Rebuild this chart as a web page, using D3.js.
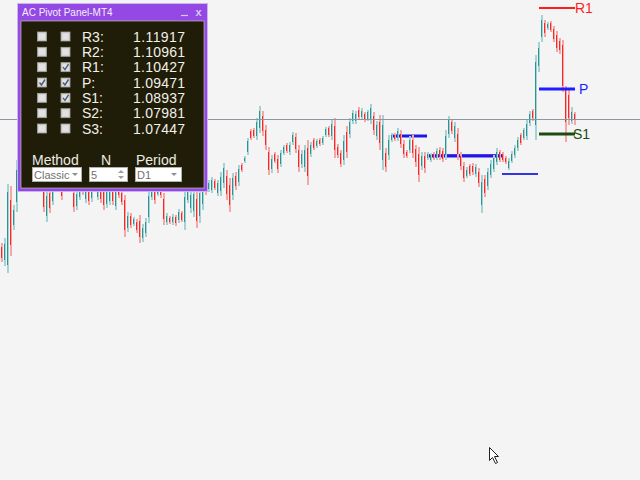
<!DOCTYPE html>
<html><head><meta charset="utf-8">
<script src="https://cdn.jsdelivr.net/npm/d3@7"></script>
<style>html,body{margin:0;padding:0;background:#f4f4f4;overflow:hidden}</style>
</head><body><svg id="c" width="640" height="480"></svg>
<script>
// ---- data ----
const opens = [
1.07605,1.07452,1.07393,1.08160,1.07865,1.08136,1.08420,1.08526,1.08349,1.08490,
1.08443,1.08325,1.08408,1.08384,1.08278,1.07971,1.08243,1.08148,1.08313,1.08408,
1.08325,1.08302,1.08384,1.08349,1.08243,1.08089,1.08195,1.08337,1.08172,1.08278,
1.08184,1.08349,1.08195,1.08290,1.08254,1.08113,1.08148,1.08278,1.08089,1.08302,
1.08243,1.08160,1.07830,1.07971,1.07877,1.07900,1.07912,1.07712,1.07771,1.07959,
1.08195,1.08278,1.08231,1.08302,1.08172,1.07900,1.07948,1.07900,1.07959,1.07924,
1.08007,1.07900,1.08160,1.08066,1.08030,1.08172,1.07971,1.08113,1.08384,1.08290,
1.08278,1.08384,1.08243,1.08266,1.08361,1.08443,1.08337,1.08219,1.08443,1.08372,
1.08573,1.08620,1.08726,1.08974,1.08986,1.08915,1.09010,1.09151,1.08986,1.08726,
1.08526,1.08703,1.08644,1.08585,1.08715,1.08809,1.08726,1.08844,1.08903,1.08750,
1.08585,1.08549,1.08774,1.08703,1.08868,1.08797,1.08868,1.08833,1.08927,1.09010,
1.08915,1.09033,1.08785,1.08715,1.08632,1.08962,1.08939,1.09092,1.09092,1.09222,
1.09139,1.09175,1.09116,1.09104,1.09151,1.08915,1.09080,1.08632,1.08715,1.08691,
1.08868,1.08927,1.08892,1.08939,1.08821,1.08726,1.08750,1.08868,1.08762,1.08703,
1.08561,1.08679,1.08656,1.08632,1.08703,1.08656,1.08750,1.08738,1.08691,1.08939,
1.09080,1.08892,1.08939,1.08679,1.08561,1.08443,1.08561,1.08561,1.08467,1.08490,
1.08101,1.08408,1.08325,1.08455,1.08526,1.08608,1.08726,1.08703,1.08656,1.08538,
1.08620,1.08691,1.08774,1.08927,1.08892,1.08915,1.09069,1.09210,1.09045,1.09741,
1.10083,1.10249,1.10190,1.10249,1.10178,1.10107,1.10036,1.09989,1.09458,1.09399,
1.09092,1.09175];
const highs = [
1.07653,1.07712,1.08349,1.08325,1.08101,1.08632,1.08750,1.08573,1.08514,1.08538,
1.08490,1.08455,1.08443,1.08420,1.08337,1.08278,1.08302,1.08372,1.08420,1.08443,
1.08372,1.08396,1.08420,1.08372,1.08302,1.08278,1.08337,1.08372,1.08361,1.08325,
1.08349,1.08372,1.08361,1.08337,1.08302,1.08302,1.08337,1.08325,1.08302,1.08337,
1.08278,1.08219,1.08018,1.08007,1.07959,1.07936,1.07983,1.07877,1.07948,1.08278,
1.08337,1.08325,1.08349,1.08337,1.08243,1.08007,1.07971,1.07995,1.07983,1.08054,
1.08030,1.08278,1.08302,1.08278,1.08302,1.08254,1.08325,1.08396,1.08420,1.08396,
1.08431,1.08408,1.08396,1.08490,1.08597,1.08514,1.08420,1.08479,1.08490,1.08573,
1.08597,1.08679,1.08892,1.08998,1.09010,1.09128,1.09269,1.09210,1.09045,1.08785,
1.08691,1.08726,1.08691,1.08750,1.08809,1.08833,1.08844,1.08962,1.08951,1.08809,
1.08750,1.08809,1.08868,1.08844,1.08892,1.08880,1.08892,1.08915,1.09021,1.09033,
1.09104,1.09128,1.08821,1.08750,1.08927,1.09033,1.09128,1.09222,1.09210,1.09257,
1.09246,1.09198,1.09222,1.09293,1.09198,1.09092,1.09163,1.09163,1.08774,1.08927,
1.08951,1.08951,1.09010,1.08986,1.08868,1.08750,1.08915,1.08927,1.08809,1.08785,
1.08726,1.08726,1.08726,1.08715,1.08726,1.08774,1.08785,1.08774,1.08986,1.09151,
1.09116,1.09080,1.09010,1.08726,1.08608,1.08549,1.08585,1.08597,1.08585,1.08538,
1.08455,1.08455,1.08538,1.08632,1.08691,1.08774,1.08750,1.08726,1.08679,1.08656,
1.08738,1.08809,1.08903,1.08951,1.09010,1.09104,1.09210,1.09234,1.09871,1.10024,
1.10343,1.10284,1.10260,1.10272,1.10213,1.10154,1.10072,1.10048,1.09505,1.09482,
1.09257,1.09198];
const lows = [
1.07428,1.07381,1.07299,1.07499,1.07806,1.08018,1.08337,1.08337,1.08302,1.08325,
1.08278,1.08290,1.08278,1.08266,1.08018,1.07900,1.08007,1.08101,1.08278,1.08290,
1.08160,1.08266,1.08278,1.08254,1.08018,1.08042,1.08160,1.08219,1.08125,1.08101,
1.08136,1.08254,1.08160,1.08125,1.08042,1.08066,1.08101,1.08101,1.08042,1.08184,
1.08101,1.07723,1.07782,1.07830,1.07853,1.07771,1.07653,1.07664,1.07723,1.07889,
1.08160,1.08113,1.08207,1.08184,1.07865,1.07865,1.07877,1.07865,1.07853,1.07889,
1.07900,1.07806,1.08125,1.08007,1.07959,1.07830,1.07889,1.08042,1.08219,1.08254,
1.08243,1.08278,1.08207,1.08207,1.08302,1.08160,1.08018,1.08160,1.08278,1.08325,
1.08490,1.08597,1.08691,1.08868,1.08892,1.08868,1.08951,1.08915,1.08750,1.08455,
1.08479,1.08597,1.08479,1.08549,1.08691,1.08715,1.08691,1.08809,1.08715,1.08490,
1.08538,1.08490,1.08337,1.08667,1.08750,1.08774,1.08797,1.08809,1.08903,1.08903,
1.08868,1.08656,1.08656,1.08549,1.08573,1.08656,1.08892,1.09057,1.09057,1.09104,
1.09104,1.09080,1.09092,1.09057,1.08927,1.08868,1.08750,1.08514,1.08490,1.08632,
1.08844,1.08856,1.08856,1.08774,1.08656,1.08656,1.08715,1.08656,1.08549,1.08372,
1.08514,1.08479,1.08632,1.08608,1.08632,1.08632,1.08632,1.08608,1.08632,1.08892,
1.08939,1.08844,1.08632,1.08514,1.08372,1.08420,1.08443,1.08455,1.08431,1.08313,
1.08007,1.08195,1.08278,1.08420,1.08490,1.08573,1.08608,1.08608,1.08585,1.08514,
1.08597,1.08656,1.08738,1.08809,1.08868,1.08868,1.09033,1.09092,1.08868,1.09670,
1.10024,1.10083,1.10166,1.10142,1.10024,1.09906,1.09883,1.09434,1.08844,1.09045,
1.09057,1.09045];
const closes = [
1.07476,1.07641,1.08254,1.07629,1.08042,1.08514,1.08667,1.08384,1.08467,1.08372,
1.08325,1.08420,1.08313,1.08302,1.08077,1.08207,1.08066,1.08325,1.08384,1.08325,
1.08207,1.08361,1.08313,1.08278,1.08077,1.08231,1.08302,1.08254,1.08313,1.08148,
1.08302,1.08278,1.08325,1.08172,1.08101,1.08254,1.08290,1.08148,1.08254,1.08219,
1.08136,1.07806,1.07971,1.07865,1.07936,1.07806,1.07723,1.07830,1.07900,1.08207,
1.08302,1.08160,1.08313,1.08219,1.07936,1.07971,1.07900,1.07959,1.07889,1.08018,
1.07924,1.08195,1.08266,1.08219,1.08231,1.07912,1.08243,1.08325,1.08254,1.08361,
1.08396,1.08302,1.08361,1.08431,1.08538,1.08231,1.08101,1.08420,1.08325,1.08526,
1.08514,1.08656,1.08856,1.08892,1.08915,1.09080,1.09210,1.08974,1.08809,1.08514,
1.08644,1.08620,1.08526,1.08715,1.08785,1.08738,1.08809,1.08927,1.08762,1.08549,
1.08703,1.08750,1.08443,1.08809,1.08774,1.08856,1.08821,1.08892,1.08998,1.08927,
1.09057,1.08750,1.08691,1.08585,1.08856,1.08726,1.09080,1.09187,1.09175,1.09139,
1.09210,1.09104,1.09198,1.09246,1.08986,1.09045,1.08833,1.09045,1.08549,1.08868,
1.08927,1.08880,1.08974,1.08821,1.08703,1.08679,1.08868,1.08715,1.08608,1.08455,
1.08679,1.08538,1.08703,1.08691,1.08656,1.08738,1.08667,1.08644,1.08915,1.09104,
1.08974,1.09033,1.08703,1.08561,1.08420,1.08514,1.08467,1.08490,1.08549,1.08361,
1.08372,1.08243,1.08490,1.08585,1.08656,1.08726,1.08632,1.08632,1.08608,1.08620,
1.08703,1.08774,1.08868,1.08833,1.08986,1.09057,1.09175,1.09128,1.09788,1.09954,
1.10284,1.10131,1.10237,1.10166,1.10060,1.09954,1.09930,1.09505,1.09080,1.09128,
1.09198,1.09116];

const pivotNames  = ["R3","R2","R1","P","S1","S2","S3"];
const pivotValues = [1.11917,1.10961,1.10427,1.09471,1.08937,1.07981,1.07447];
const checkCol1   = [false,false,false,true,false,false,false];
const checkCol2   = [false,false,true,true,true,false,false];
const chartPivots = ["R1","P","S1"];
const pastPivotValues = [1.08915,1.08679,1.08467];
const pastPivotStart  = [130,142,167];
const pastPivotEnd    = [142,167,179];
const dayStartIndex = 180;
const bidPrice = 1.09110;
const priceTop = 1.10520, priceBottom = 1.04856;
const methodValue = "Classic", nValue = "5", periodValue = "D1";

// ---- scales ----
const svg = d3.select("#c");
const W = 640, H = 480;
const x = d3.scaleLinear().domain([0, closes.length - 1]).range([1, 574]);
const y = d3.scaleLinear().domain([priceBottom, priceTop]).range([H, 0]);

svg.append("rect").attr("width", W).attr("height", H).attr("fill", "#f4f4f4");

// past pivot lines
const past = svg.append("g");
pastPivotValues.forEach((v, k) => {
  const yy = Math.round(y(v));
  if (k === 1) {
    past.append("line").attr("x1", x(pastPivotStart[k])).attr("x2", x(pastPivotEnd[k]))
      .attr("y1", yy - 1.5).attr("y2", yy - 1.5).attr("stroke", "#8c4ae6").attr("stroke-width", 1);
  }
  past.append("line").attr("x1", x(pastPivotStart[k])).attr("x2", x(pastPivotEnd[k]))
    .attr("y1", yy).attr("y2", yy).attr("stroke", k === 2 ? "#3434e6" : "#1a1ae8")
    .attr("stroke-width", k === 2 ? 2 : 3);
});

// candles
const candles = svg.append("g").attr("shape-rendering", "crispEdges");
const idx = d3.range(closes.length);
candles.selectAll("rect.rng").data(idx).join("rect")
  .attr("x", i => Math.round(x(i)))
  .attr("width", 2)
  .attr("y", i => Math.round(y(highs[i])))
  .attr("height", i => Math.max(1, Math.round(y(lows[i])) - Math.round(y(highs[i]))))
  .attr("fill", i => closes[i] >= opens[i] ? "#a3d3d3" : "#f5a6a6");
candles.selectAll("rect.body").data(idx).join("rect")
  .attr("x", i => Math.round(x(i)))
  .attr("width", 1)
  .attr("y", i => Math.round(y(Math.max(opens[i], closes[i]))))
  .attr("height", i => Math.max(1, Math.round(y(Math.min(opens[i], closes[i]))) - Math.round(y(Math.max(opens[i], closes[i])))))
  .attr("fill", i => closes[i] >= opens[i] ? "#2a9494" : "#ff2424");

// bid line
svg.append("line").attr("x1", 0).attr("x2", W)
  .attr("y1", Math.round(y(bidPrice)) + 0.5).attr("y2", Math.round(y(bidPrice)) + 0.5)
  .attr("stroke", "#8d97a2").attr("stroke-width", 1);

// current day pivot lines
const pivColors = {R1: "#ff1e1e", P: "#1e1eff", S1: "#1d4a12"};
const pivWidth = {R1: 2, P: 3, S1: 3};
const labelDx = {R1: 575, P: 579, S1: 573};
chartPivots.forEach(name => {
  const v = pivotValues[pivotNames.indexOf(name)];
  const yy = Math.round(y(v));
  svg.append("line").attr("x1", x(dayStartIndex) - 2).attr("x2", x(closes.length - 1) + 1)
    .attr("y1", yy).attr("y2", yy).attr("stroke", pivColors[name]).attr("stroke-width", pivWidth[name]);
  svg.append("text").attr("x", labelDx[name]).attr("y", yy + 5)
    .attr("font-family", "Liberation Sans, Arial, sans-serif").attr("font-size", 14)
    .attr("fill", pivColors[name]).text(name);
});

// ---- panel ----
const font = "Liberation Sans, Arial, sans-serif";
const p = svg.append("g");
p.append("rect").attr("x", 17.5).attr("y", 3.5).attr("width", 190).attr("height", 188)
  .attr("fill", "#9448e4").attr("stroke", "#c9b6ee").attr("stroke-width", 1);
p.append("rect").attr("x", 21).attr("y", 21).attr("width", 183).attr("height", 167)
  .attr("fill", "#1f1d07").attr("stroke", "#d6d0c0").attr("stroke-width", 0.6);
p.append("text").attr("x", 22).attr("y", 15.5).attr("font-family", font).attr("font-size", 10)
  .attr("fill", "#f4eefc").text("AC Pivot Panel-MT4");
p.append("line").attr("x1", 181).attr("x2", 188).attr("y1", 15.5).attr("y2", 15.5)
  .attr("stroke", "#d6c8f4").attr("stroke-width", 1.2);
p.append("text").attr("x", 195.5).attr("y", 16).attr("font-family", font).attr("font-size", 11)
  .attr("fill", "#d6c8f4").attr("font-weight", "bold").text("x");

const rowY = d3.scaleLinear().domain([0, 6]).range([36.5, 128.5]);
function checkbox(cx, cy, checked) {
  p.append("rect").attr("x", cx - 4.5).attr("y", cy - 4.5).attr("width", 9).attr("height", 9)
    .attr("fill", "#d4d4d4").attr("stroke", "#a4a4a4").attr("stroke-width", 0.8);
  p.append("rect").attr("x", cx - 3).attr("y", cy - 3).attr("width", 6).attr("height", 6)
    .attr("fill", "#e2e2e2");
  if (checked) {
    p.append("path").attr("d", `M${cx - 2.5},${cy} L${cx - 0.5},${cy + 2.5} L${cx + 3},${cy - 3}`)
      .attr("fill", "none").attr("stroke", "#4a5a78").attr("stroke-width", 1.4);
  }
}
pivotNames.forEach((name, k) => {
  const cy = rowY(k);
  checkbox(42, cy, checkCol1[k]);
  checkbox(65.5, cy, checkCol2[k]);
  p.append("text").attr("x", 82).attr("y", cy + 5).attr("font-family", font).attr("font-size", 14)
    .attr("fill", "#f2f0ea").text(name + ":");
  p.append("text").attr("x", 185).attr("y", cy + 5).attr("text-anchor", "end")
    .attr("font-family", font).attr("font-size", 14).attr("fill", "#f2f0ea")
    .attr("textLength", 52).attr("lengthAdjust", "spacing")
    .text(pivotValues[k].toFixed(5));
});

p.append("text").attr("x", 32).attr("y", 165).attr("font-family", font).attr("font-size", 14)
  .attr("fill", "#ecebe4").text("Method");
p.append("text").attr("x", 106).attr("y", 165).attr("text-anchor", "middle").attr("font-family", font)
  .attr("font-size", 14).attr("fill", "#ecebe4").text("N");
p.append("text").attr("x", 136).attr("y", 165).attr("font-family", font).attr("font-size", 14)
  .attr("fill", "#ecebe4").text("Period");

function box(x0, w, label) {
  p.append("rect").attr("x", x0 + 0.5).attr("y", 167.5).attr("width", w).attr("height", 14)
    .attr("fill", "#ffffff").attr("stroke", "#b0b0b0");
  p.append("text").attr("x", x0 + 2).attr("y", 179).attr("font-family", font).attr("font-size", 11)
    .attr("fill", "#707070").text(label);
}
box(32, 49, methodValue);
p.append("path").attr("d", "M72,173 L78,173 L75,176 Z").attr("fill", "#909090");
box(89, 38, nValue);
p.append("path").attr("d", "M118,173 L124,173 L121,170 Z").attr("fill", "#a0a0a0");
p.append("path").attr("d", "M118,176 L124,176 L121,179 Z").attr("fill", "#a0a0a0");
box(135, 46, periodValue);
p.append("path").attr("d", "M171,173 L177,173 L174,176 Z").attr("fill", "#909090");

// mouse cursor
svg.append("path")
  .attr("d", "M489.5,447.5 L489.5,460.5 L492.5,457.5 L495.5,463.5 L497.5,462.5 L494.5,456.5 L498.5,456.5 Z")
  .attr("fill", "#ffffff").attr("stroke", "#222").attr("stroke-width", 1);
</script></body></html>
